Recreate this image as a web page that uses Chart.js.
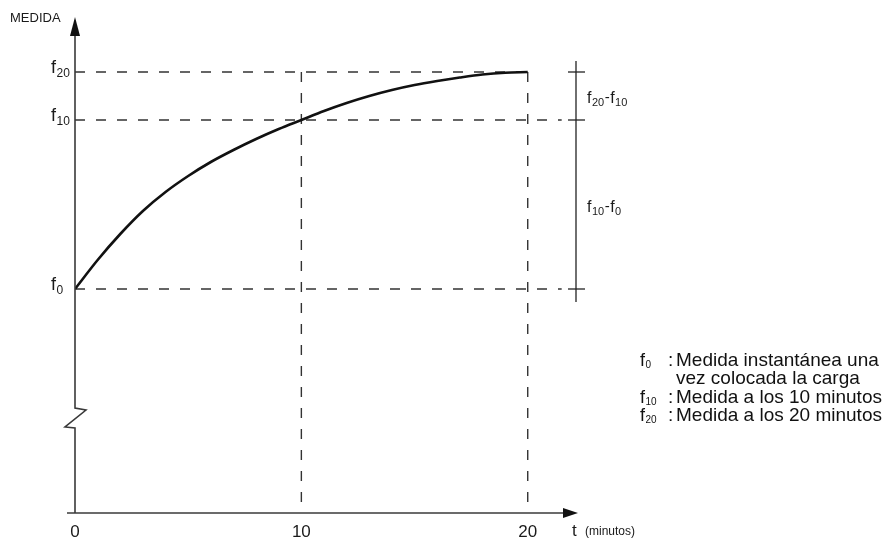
<!DOCTYPE html>
<html><head><meta charset="utf-8">
<script src="https://cdn.jsdelivr.net/npm/chart.js@4/dist/chart.umd.min.js"></script>
<style>html,body{margin:0;padding:0;background:#fff}canvas{display:block}</style>
</head><body>
<canvas id="c" width="887" height="541"></canvas>
<script>
// ---- data ----
const minutes = [0,1,2,3,4,5,6,7,8,9,10,11,12,13,14,15,16,17,18,19,20];
const medida  = [224,253,279,302,321,337,351,363,374,384,393,402,410,417,423,428,432,435.5,438.5,440.3,441];
const xTickValues = [0,10,20];
const refSubscripts = ['0','10','20'];
const refValues = [224,393,441];          // f0, f10, f20
const bracketLabels = [['20','10'],['10','0']];
const legendKeys = ['0','','10','20'];
const legendTexts = ['Medida instantánea una','vez colocada la carga','Medida a los 10 minutos','Medida a los 20 minutos'];
const yAxisTitle = 'MEDIDA';
const xAxisTitle = ['t','(minutos)'];
const yBreakValue = 95;

const FONT = '"Liberation Sans", Arial, Helvetica, sans-serif';
function fsub(ctx, x, base, sub, fs, ss, drop) {
  ctx.font = fs + 'px ' + FONT; ctx.textAlign = 'left'; ctx.textBaseline = 'alphabetic';
  ctx.fillText('f', x, base);
  const w = ctx.measureText('f').width + 0.5;
  ctx.font = ss + 'px ' + FONT;
  ctx.fillText(sub, x + w, base + drop);
  return w + ctx.measureText(sub).width;
}
function seg(ctx, a, b, c, d) { ctx.beginPath(); ctx.moveTo(a, b); ctx.lineTo(c, d); ctx.stroke(); }

const deco = {
  id: 'deco',
  beforeDatasetsDraw(chart) {
    const ctx = chart.ctx, xs = chart.scales.x, ys = chart.scales.y;
    const X = v => xs.getPixelForValue(v), Y = v => ys.getPixelForValue(v);
    const [f0, f10, f20] = refValues;
    ctx.save();
    ctx.setLineDash([10, 11]); ctx.strokeStyle = '#333'; ctx.lineWidth = 1.4;
    seg(ctx, X(0), Y(f20), X(20), Y(f20));
    seg(ctx, X(0), Y(f10), X(21.5), Y(f10));
    seg(ctx, X(0), Y(f0), X(21.5), Y(f0));
    seg(ctx, X(10), Y(f20), X(10), Y(0));
    seg(ctx, X(20), Y(f20), X(20), Y(0));
    ctx.restore();
  },
  afterDraw(chart) {
    const ctx = chart.ctx, xs = chart.scales.x, ys = chart.scales.y;
    const X = v => xs.getPixelForValue(v), Y = v => ys.getPixelForValue(v);
    const x0 = X(0), yb = Y(0), ybr = Y(yBreakValue);
    const [f0, f10, f20] = refValues;
    ctx.save();
    ctx.setLineDash([]);
    ctx.strokeStyle = '#3a3a3a'; ctx.fillStyle = '#111'; ctx.lineWidth = 1.6;
    // y axis with break
    ctx.beginPath();
    ctx.moveTo(x0, yb); ctx.lineTo(x0, ybr + 10); ctx.lineTo(x0 - 10, ybr + 9);
    ctx.lineTo(x0 + 11, ybr - 8); ctx.lineTo(x0, ybr - 10); ctx.lineTo(x0, 35);
    ctx.stroke();
    ctx.beginPath(); ctx.moveTo(x0, 17); ctx.lineTo(x0 - 5, 36); ctx.lineTo(x0 + 5, 36); ctx.closePath(); ctx.fill();
    // x axis
    seg(ctx, x0 - 8, yb, 566, yb);
    ctx.beginPath(); ctx.moveTo(578, yb); ctx.lineTo(563, yb - 5); ctx.lineTo(563, yb + 5); ctx.closePath(); ctx.fill();
    // x tick labels
    ctx.fillStyle = '#1a1a1a';
    ctx.font = '17px ' + FONT; ctx.textAlign = 'center'; ctx.textBaseline = 'alphabetic';
    xTickValues.forEach(v => ctx.fillText(String(v), X(v), 537));
    // x title
    ctx.textAlign = 'left';
    ctx.font = '17px ' + FONT; ctx.fillText(xAxisTitle[0], 572, 536);
    ctx.font = '12px ' + FONT; ctx.fillText(xAxisTitle[1], 585, 535);
    // y title
    ctx.font = '13px ' + FONT; ctx.fillText(yAxisTitle, 10, 22);
    // y reference labels
    refValues.forEach((v, i) => fsub(ctx, 51, Y(v) + 1, refSubscripts[i], 18, 12, 4));
    // bracket
    const bx = 576;
    ctx.strokeStyle = '#222'; ctx.lineWidth = 1.3;
    seg(ctx, bx, Y(f20) - 11, bx, Y(f0) + 13);
    refValues.forEach(v => seg(ctx, bx - 8, Y(v), bx + 9, Y(v)));
    const pairs = [[f20, f10], [f10, f0]];
    pairs.forEach((p, i) => {
      const base = (Y(p[0]) + Y(p[1])) / 2 + 7;
      let x = 587;
      x += fsub(ctx, x, base, bracketLabels[i][0], 16, 11, 3);
      ctx.font = '15px ' + FONT; ctx.fillText('-', x + 0.5, base - 1); x += ctx.measureText('-').width + 1;
      fsub(ctx, x, base, bracketLabels[i][1], 16, 11, 3);
    });
    // legend
    const bases = [366, 384, 403, 421];
    legendTexts.forEach((t, i) => {
      ctx.fillStyle = '#111';
      if (legendKeys[i] !== '') {
        fsub(ctx, 640, bases[i], legendKeys[i], 18, 10, 2);
        ctx.font = '19px ' + FONT; ctx.fillText(':', 668, bases[i]);
      }
      ctx.font = '19px ' + FONT; ctx.fillText(t, 676, bases[i]);
    });
    ctx.restore();
  }
};

new Chart(document.getElementById('c'), {
  type: 'line',
  data: {
    datasets: [{
      data: minutes.map((m, i) => ({ x: m, y: medida[i] })),
      borderColor: '#111', borderWidth: 2.6, pointRadius: 0,
      cubicInterpolationMode: 'monotone', fill: false
    }]
  },
  options: {
    responsive: false, animation: false, devicePixelRatio: 1,
    layout: { padding: { left: 75, right: 314, top: 42, bottom: 28 } },
    plugins: { legend: { display: false }, tooltip: { enabled: false } },
    scales: {
      x: { type: 'linear', min: 0, max: 22, display: false },
      y: { type: 'linear', min: 0, max: 471, display: false }
    }
  },
  plugins: [deco]
});
</script>
</body></html>
